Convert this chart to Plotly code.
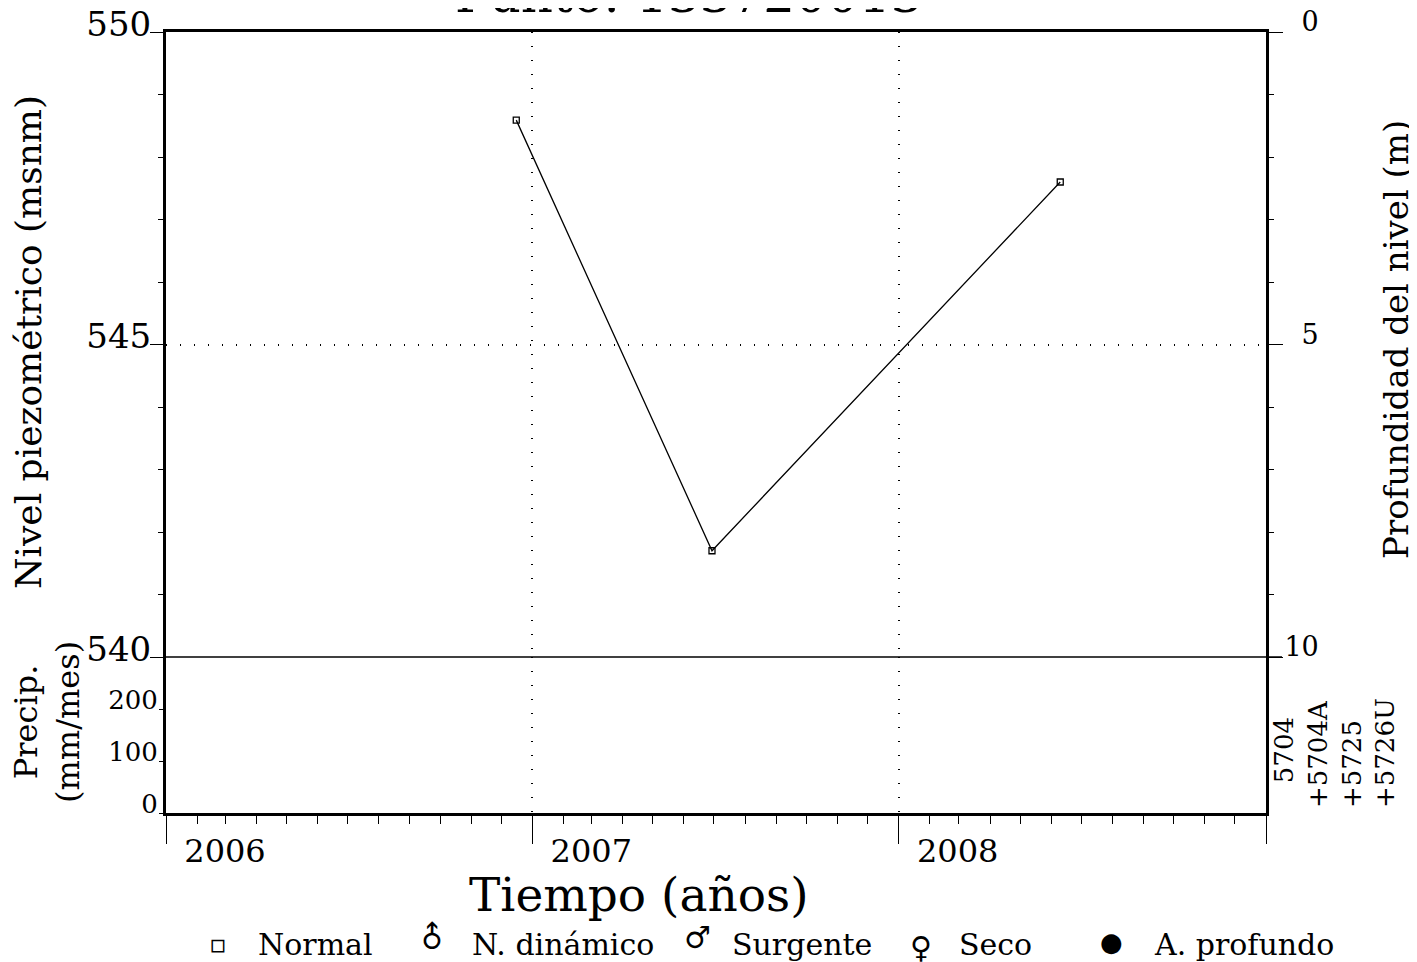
import plotly.graph_objects as go

# ---- data ----
dates = ["2006-12-16", "2007-06-29", "2008-06-10"]
levels = [548.59, 541.70, 547.60]          # Nivel piezometrico (msnm)
surface = 550.0                               # reference for depth axis
depths = [surface - v for v in levels]       # Profundidad del nivel (m)
year_ticks = ["2006-01-01", "2007-01-01", "2008-01-01", "2009-01-01"]
year_labels = ["2006", "2007", "2008", ""]
level_ticks = [540, 545, 550]
depth_ticks = [0, 5, 10]
depth_labels = ["\u20070", "\u20075", "10"]
precip_ticks = [0, 100, 200]
stations = ["\u2007 5704", "+5704A", "+5725", "+5726U"]

FONT = "DejaVu Serif"
W, H = 1417, 962
OFF = 8                      # page body margin of the browser
L, R, T, B = 166, 1266, 32, 813
pw, ph = R - L, B - T
split = 657
def px(x): return (x - L) / pw
def py(y): return (B - y) / ph

fig = go.Figure()
fig.add_trace(go.Scatter(
    x=dates, y=levels, mode="lines+markers", xaxis="x2", yaxis="y",
    line=dict(color="black", width=1.3),
    marker=dict(symbol="square-open", size=6, color="black", line=dict(width=1.3)),
    showlegend=False, hoverinfo="x+y"))
fig.add_trace(go.Scatter(
    x=dates, y=depths, mode="lines", xaxis="x2", yaxis="y3",
    line=dict(color="rgba(0,0,0,0)"), showlegend=False, hoverinfo="skip"))
fig.add_trace(go.Scatter(
    x=dates, y=[None] * len(dates), mode="lines", xaxis="x", yaxis="y2",
    showlegend=False, hoverinfo="skip"))

dom_low = (B - split) / ph
grid = dict(showgrid=True, gridcolor="black", gridwidth=1.5, griddash="1px,13px")

fig.update_layout(
    width=W - OFF, height=H - OFF,
    margin=dict(l=L - OFF, r=W - R, t=T - OFF, b=H - B, autoexpand=False),
    paper_bgcolor="white", plot_bgcolor="white",
    font=dict(family=FONT, color="black"),
    showlegend=False,
    xaxis=dict(
        type="date", range=["2006-01-01", "2009-01-01"], anchor="y2", domain=[0, 1],
        showline=True, linewidth=3, linecolor="black",
        tickmode="array", tickvals=year_ticks, ticktext=year_labels,
        ticks="outside", ticklen=28, tickwidth=1.2, tickcolor="black",
        tickfont=dict(size=32), ticklabelshift=59, ticklabelstandoff=-20,
        minor=dict(dtick="M1", tick0="2006-01-01", ticks="outside", ticklen=8,
                   tickwidth=1.2, tickcolor="black", showgrid=False),
        zeroline=False, **grid),
    xaxis2=dict(
        type="date", matches="x", anchor="y", domain=[0, 1], side="top",
        showline=True, linewidth=3, linecolor="black",
        tickmode="array", tickvals=year_ticks, ticks="", showticklabels=False,
        zeroline=False, **grid),
    yaxis=dict(
        domain=[dom_low, 1], anchor="x2", range=[540, 550],
        showline=True, linewidth=3, linecolor="black",
        tickmode="array", tickvals=level_ticks,
        ticks="outside", ticklen=13, tickwidth=1.2, tickcolor="black",
        tickfont=dict(size=34), ticklabelshift=-8, ticklabelstandoff=-8,
        ticklabeloverflow="allow",
        minor=dict(dtick=1, ticks="outside", ticklen=5, tickwidth=1.2,
                   tickcolor="black", showgrid=False),
        zeroline=False, **grid),
    yaxis3=dict(
        overlaying="y", anchor="x2", side="right", range=[10, 0],
        showline=True, linewidth=3, linecolor="black",
        tickmode="array", tickvals=depth_ticks, ticktext=depth_labels,
        ticks="outside", ticklen=14, tickwidth=1.2, tickcolor="black",
        tickfont=dict(size=27), ticklabelshift=10, ticklabelstandoff=-4,
        ticklabeloverflow="allow",
        minor=dict(dtick=1, ticks="outside", ticklen=5, tickwidth=1.2,
                   tickcolor="black", showgrid=False),
        showgrid=False, zeroline=False),
    yaxis2=dict(
        domain=[0, dom_low], anchor="x", range=[0, 300],
        showline=True, linewidth=3, linecolor="black", mirror=True,
        tickmode="array", tickvals=precip_ticks,
        ticks="outside", ticklen=4, tickwidth=1.2, tickcolor="black",
        tickfont=dict(size=26), ticklabelshift=-9, ticklabelstandoff=-4,
        ticklabeloverflow="allow",
        showgrid=False, zeroline=False),
)

# divider line between panels (extends to the depth "10" tick)
fig.add_shape(type="line", xref="paper", yref="paper",
              x0=0, x1=px(1282), y0=dom_low, y1=dom_low,
              line=dict(color="black", width=1.3), layer="above")

ann = []
ann.append(dict(text="Punto: 133720013", x=px(688), y=py(26), xanchor="center",
                yanchor="bottom", font=dict(size=50)))
ann.append(dict(text="Nivel piezométrico (msnm)", x=px(28), y=py(342), textangle=-90,
                xanchor="center", yanchor="middle", font=dict(size=36)))
ann.append(dict(text="Profundidad del nivel (m)", x=px(1396), y=py(340), textangle=-90,
                xanchor="center", yanchor="middle", font=dict(size=34)))
ann.append(dict(text="Precip.<br>(mm/mes)", x=px(47), y=py(722), textangle=-90,
                xanchor="center", yanchor="middle", font=dict(size=32)))
ann.append(dict(text="Tiempo (años)", x=px(638), y=py(895), xanchor="center",
                yanchor="middle", font=dict(size=47)))
ann.append(dict(text="<br>".join(stations), x=px(1334), y=py(810), textangle=-90,
                xanchor="center", yanchor="bottom", align="left",
                font=dict(size=26)))
# symbol legend
legend_items = [
    ("\u25ab", 218, 944, 0, 26), ("Normal", 315, 944, 0, 30),
    ("\u2642", 432, 938, -45, 30), ("N. dinámico", 563, 944, 0, 30),
    ("\u2642", 697, 938, 0, 30), ("Surgente", 802, 944, 0, 30),
    ("\u2640", 921, 947, 0, 30), ("Seco", 995, 944, 0, 30),
    ("\u25cf", 1111, 942, 0, 26), ("A. profundo", 1244, 944, 0, 30),
]
for t, x, y, ang, s in legend_items:
    ann.append(dict(text=t, x=px(x), y=py(y), textangle=ang, xanchor="center",
                    yanchor="middle", font=dict(size=s)))
for a in ann:
    a.update(xref="paper", yref="paper", showarrow=False)
fig.update_layout(annotations=ann)

fig.write_html("out.html")
